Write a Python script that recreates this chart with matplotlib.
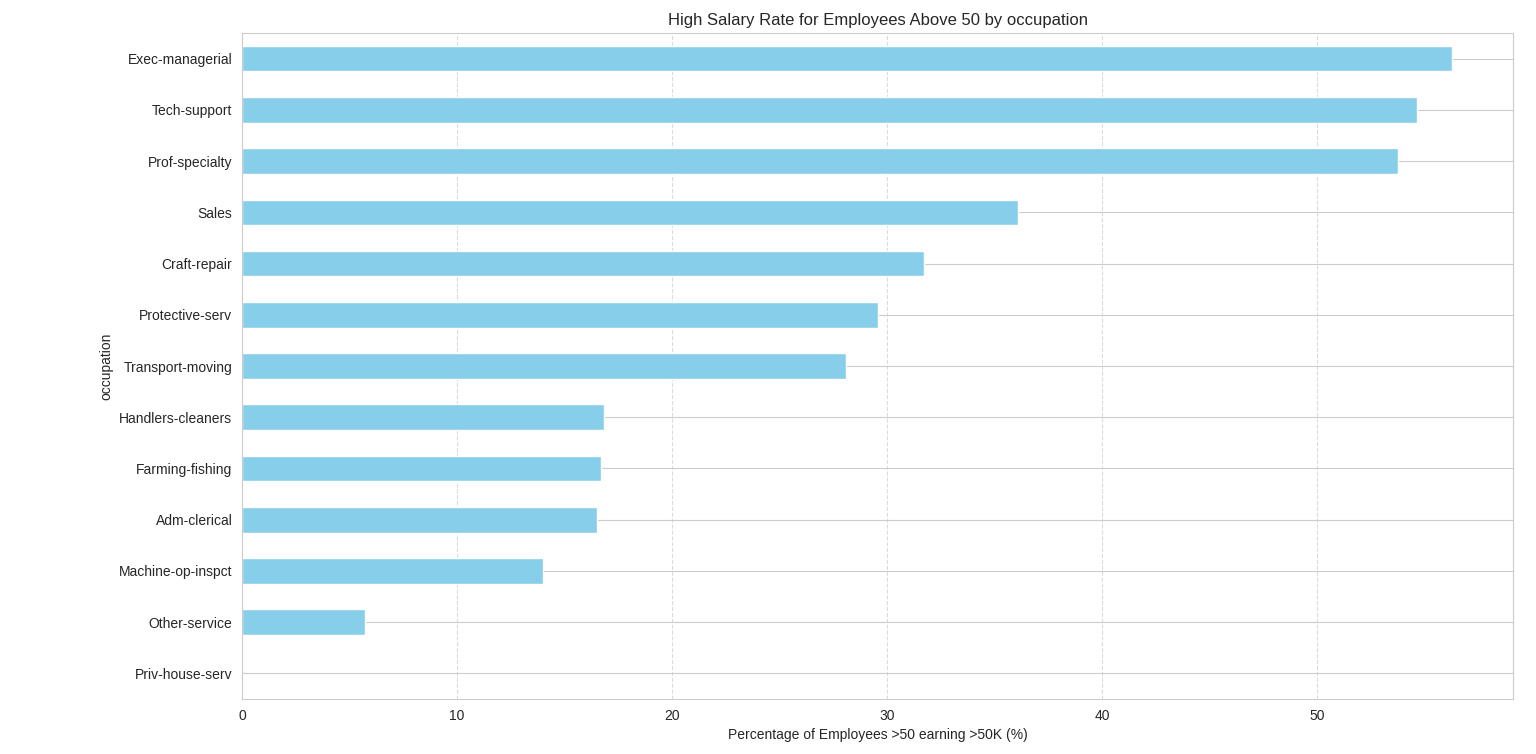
import matplotlib
matplotlib.use("Agg")
import matplotlib.pyplot as plt
import pandas as pd
import seaborn as sns

occupations = ['Exec-managerial', 'Tech-support', 'Prof-specialty', 'Sales',
               'Craft-repair', 'Protective-serv', 'Transport-moving',
               'Handlers-cleaners', 'Farming-fishing', 'Adm-clerical',
               'Machine-op-inspct', 'Other-service', 'Priv-house-serv']
high_salary_rate = [56.3, 54.65, 53.75, 36.1, 31.7, 29.6, 28.1,
                    16.85, 16.7, 16.5, 14.0, 5.7, 0.0]

sns.set_style('whitegrid')
plt.rcParams['font.family'] = ['Liberation Sans', 'DejaVu Sans']

rates = pd.Series(high_salary_rate, index=pd.Index(occupations, name='occupation'))
# smallest at the bottom, like sort_values() + barh
rates = rates.iloc[::-1]

fig = plt.figure(figsize=(15.36, 7.54), dpi=100)
ax = fig.add_axes([0.1576, 0.0729, 0.8274, 0.8833])
rates.plot(kind='barh', color='skyblue', ax=ax)

ax.set_title('High Salary Rate for Employees Above 50 by occupation', fontsize=12)
ax.set_xlabel('Percentage of Employees >50 earning >50K (%)')
ax.set_ylabel('occupation')
ax.grid(axis='x', linestyle='--', alpha=0.7)

fig.savefig('out.png', dpi=100)
